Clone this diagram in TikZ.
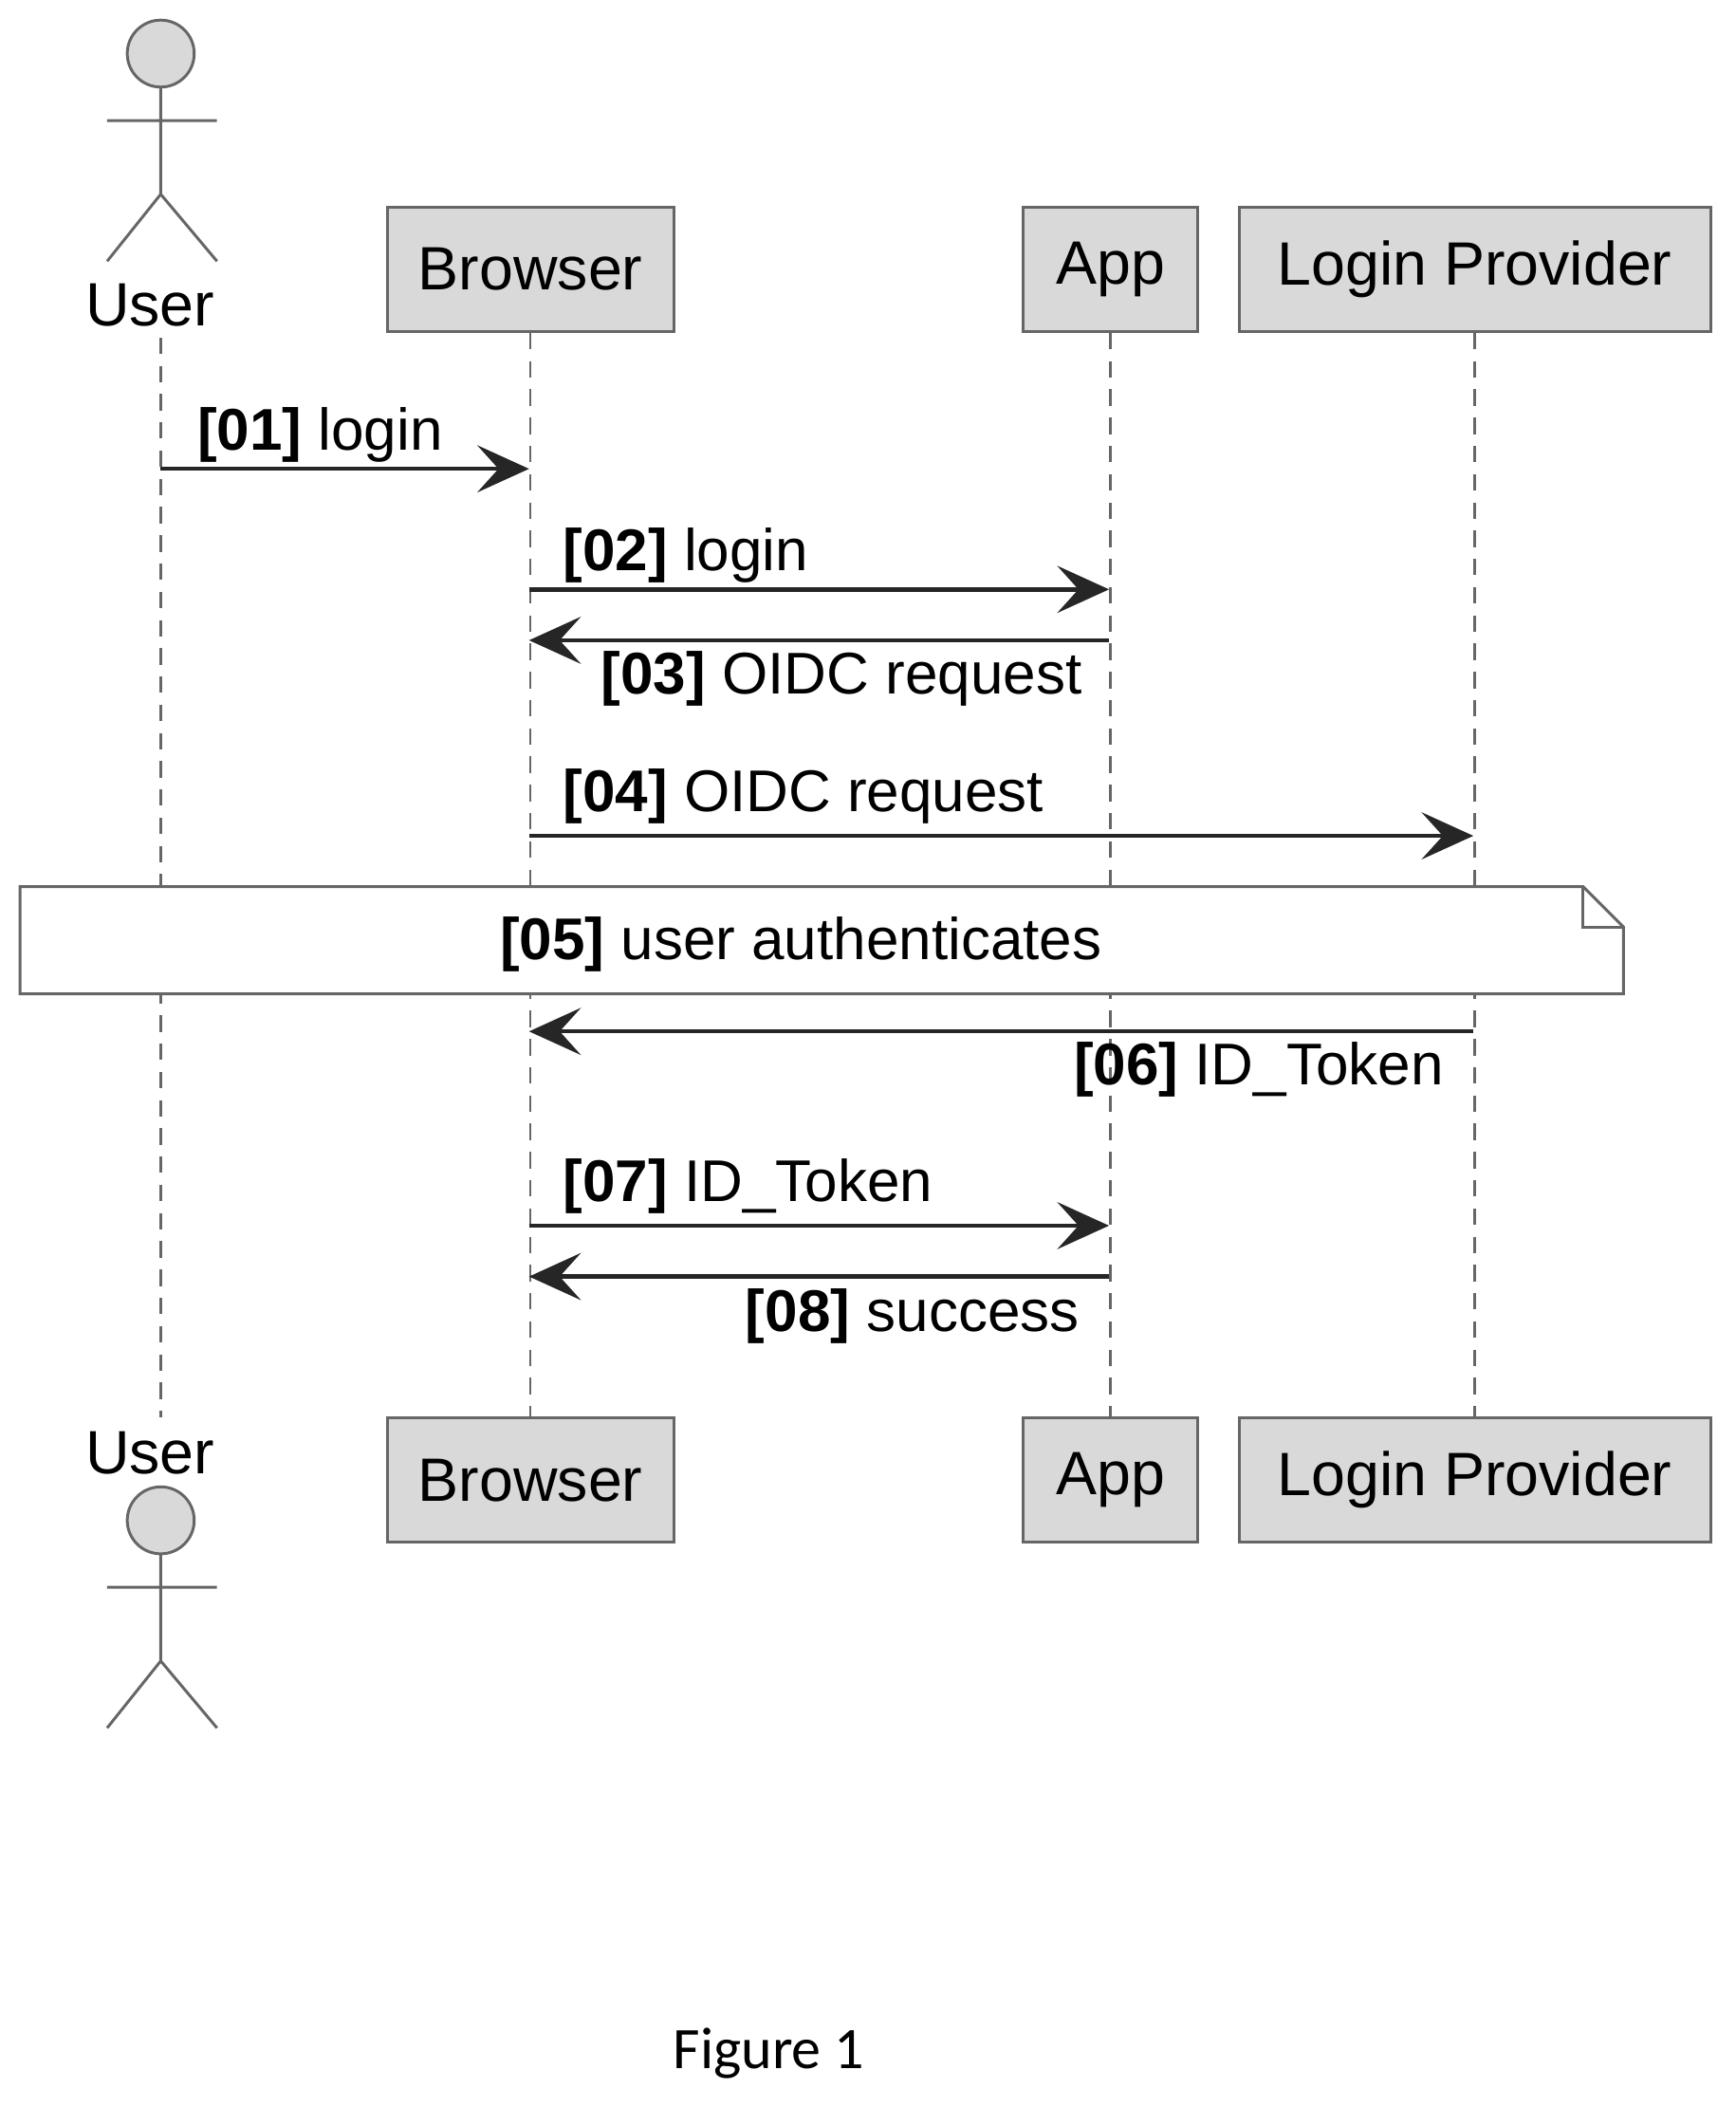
\documentclass[tikz,border=0pt]{standalone}
\usepackage{fontspec}
\setmainfont{Liberation Sans}
\newfontfamily\figfont{Carlito}
\usetikzlibrary{arrows.meta}
\begin{document}
\begin{tikzpicture}[x=0.02cm,y=-0.02cm,
  part/.style={draw=black!60,fill=black!15,line width=1.2pt,inner sep=0pt,font=\fontsize{26}{30}\selectfont},
  life/.style={draw=black!60,line width=1pt,dash pattern=on 7pt off 5pt},
  msg/.style={draw=black!85,line width=1.8pt,-{Stealth[length=22pt,width=20pt,inset=9pt]}},
  lbl/.style={font=\fontsize{25}{30}\selectfont,inner sep=0pt},
  actor/.style={draw=black!60,line width=1.2pt}]
\useasboundingbox (0,0) rectangle (1296,1573);
% participant boxes
\node[part,minimum width=4.28cm,minimum height=1.86cm] (bt) at (396,201) {Browser};
\node[part,minimum width=2.6cm,minimum height=1.86cm] (at) at (829,201) {App};
\node[part,minimum width=7.04cm,minimum height=1.86cm] (lt) at (1101,201) {Login Provider};
\node[part,minimum width=4.28cm,minimum height=1.86cm] (bb) at (396,1105) {Browser};
\node[part,minimum width=2.6cm,minimum height=1.86cm] (ab) at (829,1105) {App};
\node[part,minimum width=7.04cm,minimum height=1.86cm] (lb) at (1101,1105) {Login Provider};
% actors
\node[lbl,font=\fontsize{26}{30}\selectfont] (ut) at (112,228) {User};
\node[lbl,font=\fontsize{26}{30}\selectfont] (ub) at (112,1085) {User};
\coordinate (ul1) at (120,252);
\coordinate (ul2) at (120,1058);
\foreach \y/\d in {40/1,1135/2}{
  \draw[actor,fill=black!15] (120,\y) circle (0.5cm);
  \draw[actor] (120,\y+25) -- (120,\y+105) (80,\y+50) -- (162,\y+50)
     (80,\y+155) -- (120,\y+105) -- (162,\y+155);
}
% lifelines
\draw[life] (ul1) -- (ul2);
\draw[life] (bt.south) -- (bb.north);
\draw[life] (at.south) -- (ab.north);
\draw[life] (lt.south) -- (lb.north);
% lifeline points
\foreach \n/\x in {u/120,b/395,a/828,l/1100}{
  \foreach \k/\y in {1/350,2/440,3/478,4/624,6/770,7/915,8/953}{
    \coordinate (\n\k) at (\x,\y);}}
\draw[msg] (u1) -- (b1);
\node[lbl,anchor=base west] at (147,336) {\textbf{[01]} login};
\draw[msg] (b2) -- (a2);
\node[lbl,anchor=base west] at (420,426) {\textbf{[02]} login};
\draw[msg] (a3) -- (b3);
\node[lbl,anchor=base east] at (808,518) {\textbf{[03]} OIDC request};
\draw[msg] (b4) -- (l4);
\node[lbl,anchor=base west] at (420,606) {\textbf{[04]} OIDC request};
% note
\draw[draw=black!60,fill=white,line width=1.2pt] (15,662) -- (1182,662) -- (1212,692) -- (1212,742) -- (15,742) -- cycle;
\draw[draw=black!60,line width=1.2pt] (1182,662) -- (1182,692) -- (1212,692);
\node[lbl] (note) at (598,705) {\textbf{[05]} user authenticates};
\draw[msg] (l6) -- (b6);
\node[lbl,anchor=base east] at (1078,810) {\textbf{[06]} ID\_Token};
\draw[msg] (b7) -- (a7);
\node[lbl,anchor=base west] at (420,897) {\textbf{[07]} ID\_Token};
\draw[msg] (a8) -- (b8);
\node[lbl,anchor=base east] at (806,994) {\textbf{[08]} success};
\node[lbl,font=\figfont\fontsize{25}{30}\selectfont] (fig) at (574,1533) {Figure 1};
\end{tikzpicture}
\end{document}
